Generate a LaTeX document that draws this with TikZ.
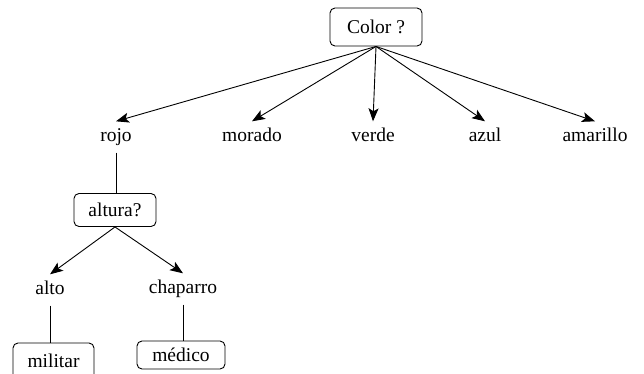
\documentclass[tikz,border=0pt]{standalone}
\usepackage{fontspec}
\setmainfont{Liberation Serif}
\usetikzlibrary{arrows.meta}
\begin{document}
\begin{tikzpicture}[x=1pt,y=-1pt,
  every node/.style={font=\fontsize{19.5}{22}\selectfont},
  box/.style={draw, rounded corners=5pt, line width=0.9pt, inner sep=0pt},
  leaf/.style={inner xsep=0pt, inner ysep=7pt, text height=13pt, text depth=4pt},
  arr/.style={-{Stealth[length=13pt,width=10pt,inset=3pt]}, line width=0.9pt},
  link/.style={line width=0.9pt}]
\useasboundingbox (0,0) rectangle (644,373);

% root question
\node[box, minimum width=92pt, minimum height=38pt] (color) at (376,27) {Color ?};

% first level answers
\node[leaf] (rojo)     at (116,137) {rojo};
\node[leaf] (morado)   at (252,137) {morado};
\node[leaf] (verde)    at (373,137) {verde};
\node[leaf] (azul)     at (485,137) {azul};
\node[leaf] (amarillo) at (595,137) {amarillo};

% second question under "rojo"
\node[box, minimum width=82pt, minimum height=33pt] (altura) at (115,210) {altura?};
\node[leaf] (alto)     at (50,290)  {alto};
\node[leaf] (chaparro) at (183,289) {chaparro};

% final classes (the lower one runs off the bottom edge)
\node[box, minimum width=81pt, minimum height=36pt] (militar) at (53.5,361) {militar};
\node[box, minimum width=88pt, minimum height=28pt] (medico)  at (181,355) {médico};

\foreach \t in {rojo,morado,verde,azul,amarillo}
  \draw[arr] (color.south) -- (\t.north);
\draw[link] (rojo.south) -- (rojo.south |- altura.north);
\draw[arr] (altura.south) -- (alto.north);
\draw[arr] (altura.south) -- (chaparro.north);
\draw[link] (alto.south) -- (alto.south |- militar.north);
\draw[link] (chaparro.south) -- (chaparro.south |- medico.north);
\end{tikzpicture}
\end{document}
